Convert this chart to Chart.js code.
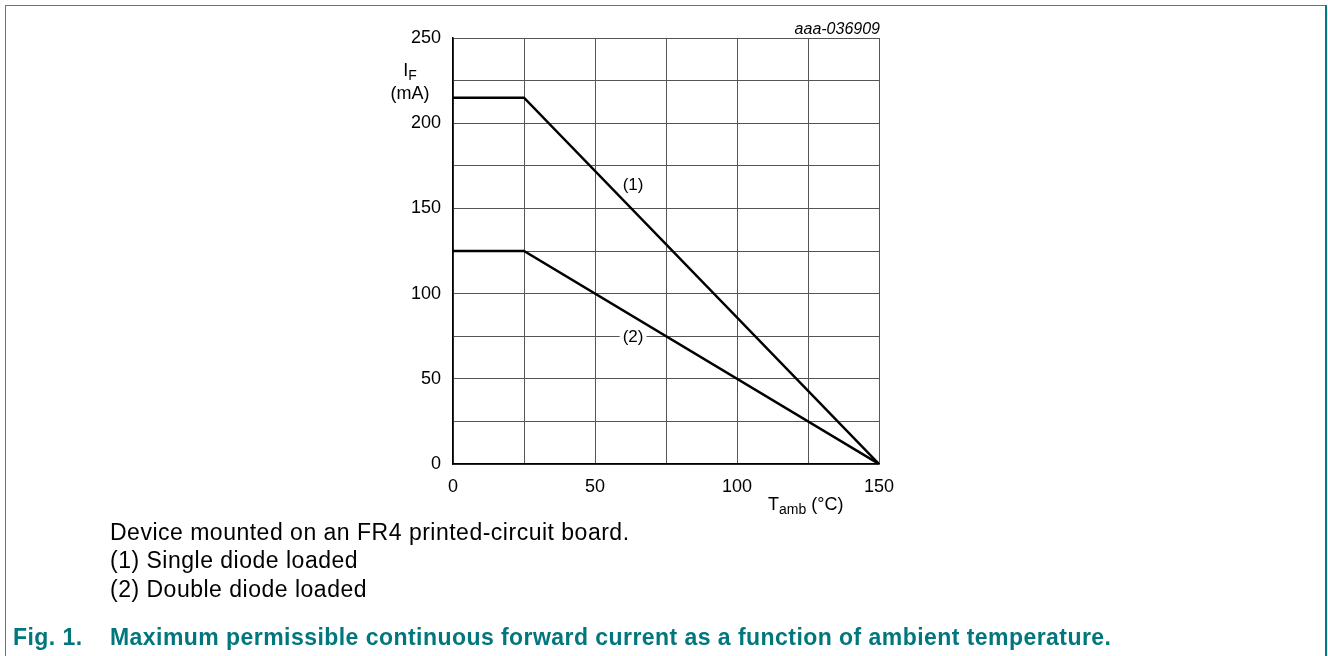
<!DOCTYPE html>
<html lang="en">
<head>
    <meta charset="UTF-8">
    <title>Maximum permissible continuous forward current</title>
    <script src="https://cdn.jsdelivr.net/npm/chart.js@4.4.1/dist/chart.umd.min.js"></script>
    <style>
        body {
            margin: 0;
            width: 1328px;
            height: 656px;
            position: relative;
            overflow: hidden;
            background: #fff;
            font-family: Arial, 'Liberation Sans', sans-serif;
            color: #000;
        }
        #chart {
            position: absolute;
            left: 0;
            top: 0;
        }
        .frame-top {
            position: absolute;
            left: 5px;
            top: 5px;
            width: 1322px;
            height: 0;
            border-top: 1.5px solid #2f8d94;
        }
        .frame-left {
            position: absolute;
            left: 5px;
            top: 5px;
            width: 0;
            height: 651px;
            border-left: 1.5px solid #2f8d94;
        }
        .frame-right {
            position: absolute;
            left: 1325px;
            top: 5px;
            width: 0;
            height: 651px;
            border-left: 2px solid #007a80;
        }
        .txt {
            position: absolute;
            white-space: nowrap;
            font-size: 18px;
        }
        .code {
            font-style: italic;
            font-size: 16px;
            right: 448px;
            top: 20px;
        }
        .ytitle {
            left: 380px;
            top: 59px;
            width: 60px;
            text-align: center;
            line-height: 23px;
        }
        .xtitle {
            left: 768px;
            top: 494px;
        }
        sub {
            font-size: 14px;
            vertical-align: -4px;
            line-height: 0;
        }
        .note {
            left: 110px;
            font-size: 23px;
            letter-spacing: 0.5px;
        }
        .caption {
            left: 13px;
            top: 624px;
            font-size: 23px;
            letter-spacing: 0.45px;
            font-weight: bold;
            color: #00777d;
        }
        .caption span {
            position: absolute;
            left: 97px;
        }
    </style>
</head>
<body>
    <canvas id="chart" width="1328" height="656"></canvas>

    <div class="frame-top"></div>
    <div class="frame-left"></div>
    <div class="frame-right"></div>

    <div class="txt code">aaa-036909</div>
    <div class="txt ytitle">I<sub>F</sub><br>(mA)</div>
    <div class="txt xtitle">T<sub>amb</sub> (°C)</div>

    <div class="txt note" style="top: 519px;">Device mounted on an FR4 printed-circuit board.</div>
    <div class="txt note" style="top: 547px;">(1) Single diode loaded</div>
    <div class="txt note" style="top: 576px;">(2) Double diode loaded</div>
    <div class="txt caption">Fig. 1.<span>Maximum permissible continuous forward current as a function of ambient temperature.</span></div>

    <script>
        // Ambient temperature (°C)
        const tempC = [0, 25, 150];
        // I_F (mA) for each curve
        const singleDiode = [215, 215, 0];
        const doubleDiode = [125, 125, 0];

        // Tick labels
        const xTickLabels = [0, 50, 100, 150];
        const yTickLabels = [0, 50, 100, 150, 200, 250];

        // Curve labels
        const curveNames = ['(1)', '(2)'];
        const curveLabelT = [63.4, 63.4];
        const curveLabelI = [164, 75];

        const curveLabels = {
            id: 'curveLabels',
            afterDatasetsDraw(chart) {
                const ctx = chart.ctx;
                const xs = chart.scales.x;
                const ys = chart.scales.y;
                ctx.save();
                ctx.font = '17px Arial, "Liberation Sans", sans-serif';
                ctx.textAlign = 'center';
                ctx.textBaseline = 'middle';
                curveNames.forEach((name, i) => {
                    const px = xs.getPixelForValue(curveLabelT[i]);
                    const py = ys.getPixelForValue(curveLabelI[i]);
                    const w = ctx.measureText(name).width + 6;
                    ctx.fillStyle = '#fff';
                    ctx.fillRect(px - w / 2, py - 10, w, 20);
                    ctx.fillStyle = '#000';
                    ctx.fillText(name, px, py + 1);
                });
                ctx.restore();
            }
        };

        const toPoints = (ys) => tempC.map((t, i) => ({ x: t, y: ys[i] }));

        const tickFont = { family: 'Arial, "Liberation Sans", sans-serif', size: 18 };

        new Chart(document.getElementById('chart'), {
            type: 'line',
            data: {
                datasets: [
                    {
                        data: toPoints(singleDiode),
                        borderColor: '#000',
                        borderWidth: 2.5,
                        pointRadius: 0,
                        tension: 0
                    },
                    {
                        data: toPoints(doubleDiode),
                        borderColor: '#000',
                        borderWidth: 2.5,
                        pointRadius: 0,
                        tension: 0
                    }
                ]
            },
            options: {
                responsive: false,
                animation: false,
                layout: {
                    padding: { left: 0, top: 38, right: 449, bottom: 0 }
                },
                plugins: {
                    legend: { display: false },
                    tooltip: { enabled: false }
                },
                scales: {
                    x: {
                        type: 'linear',
                        min: 0,
                        max: 150,
                        afterFit(scale) { scale.height = 192; },
                        grid: { color: '#555', lineWidth: 1, drawTicks: false },
                        border: { color: '#000', width: 1.5 },
                        ticks: {
                            stepSize: 25,
                            padding: 12,
                            color: '#000',
                            font: tickFont,
                            callback: (v) => xTickLabels.includes(v) ? String(v) : ''
                        }
                    },
                    y: {
                        min: 0,
                        max: 250,
                        afterFit(scale) { scale.width = 453; },
                        grid: { color: '#555', lineWidth: 1, drawTicks: false },
                        border: { color: '#000', width: 1.5 },
                        ticks: {
                            stepSize: 25,
                            padding: 12,
                            color: '#000',
                            font: tickFont,
                            callback: (v) => yTickLabels.includes(v) ? String(v) : ''
                        }
                    }
                }
            },
            plugins: [curveLabels]
        });
    </script>
</body>
</html>
